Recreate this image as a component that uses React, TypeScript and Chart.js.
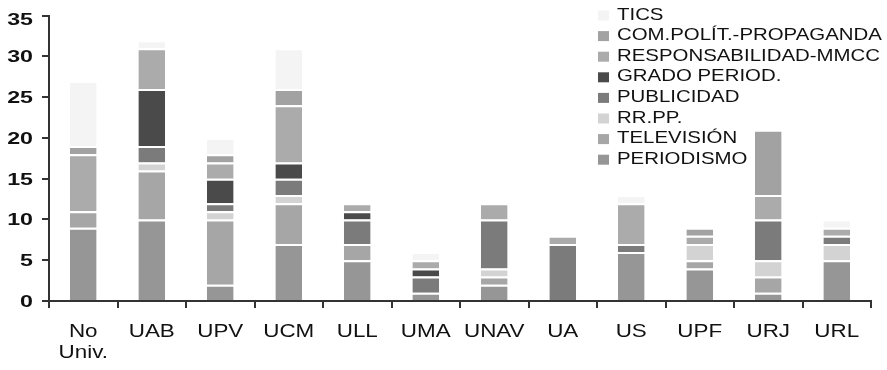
import { useEffect, useRef } from "react";
import { Chart, registerables } from "chart.js";

Chart.register(...registerables);

// Universities (x categories); multi-line labels are arrays
const universities: (string | string[])[] = [
  ["No", "Univ."], "UAB", "UPV", "UCM", "ULL", "UMA", "UNAV", "UA", "US", "UPF", "URJ", "URL",
];

// Number of works per area, stacked bottom to top
const periodismo = [9, 10, 2, 7, 5, 1, 2, 0, 6, 4, 1, 5];
const television = [2, 6, 8, 5, 2, 0, 1, 0, 0, 1, 2, 0];
const rrpp = [0, 1, 1, 1, 0, 0, 1, 0, 0, 2, 2, 2];
const publicidad = [0, 2, 1, 2, 3, 2, 6, 7, 1, 0, 5, 1];
const gradoPeriod = [0, 7, 3, 2, 1, 1, 0, 0, 0, 0, 0, 0];
const responsabilidad = [7, 5, 2, 7, 1, 1, 2, 1, 5, 1, 3, 1];
const comPolitica = [1, 0, 1, 2, 0, 0, 0, 0, 0, 1, 8, 0];
const tics = [8, 1, 2, 5, 0, 1, 0, 0, 1, 0, 0, 1];

const seriesNames = [
  "PERIODISMO",
  "TELEVISIÓN",
  "RR.PP.",
  "PUBLICIDAD",
  "GRADO PERIOD.",
  "RESPONSABILIDAD-MMCC",
  "COM.POLÍT.-PROPAGANDA",
  "TICS",
];
const seriesValues = [
  periodismo, television, rrpp, publicidad, gradoPeriod, responsabilidad, comPolitica, tics,
];
const grays = [
  "#969696", "#a6a6a6", "#d3d3d3", "#7b7b7b", "#4a4a4a", "#ababab", "#a2a2a2", "#f4f4f4",
];

const yTicks = [0, 5, 10, 15, 20, 25, 30, 35];

const FONT = "'Liberation Sans', Arial, sans-serif";
const AXIS = "#333333";

function stretchedText(
  ctx: CanvasRenderingContext2D,
  text: string,
  x: number,
  y: number,
  sx: number,
  align: CanvasTextAlign
) {
  ctx.save();
  ctx.translate(x, y);
  ctx.scale(sx, 1);
  ctx.textAlign = align;
  ctx.fillText(text, 0, 0);
  ctx.restore();
}

// Tick labels and legend, drawn with a wide horizontal scale
const textPlugin = {
  id: "wideText",
  afterDraw(chart: any) {
    const ctx: CanvasRenderingContext2D = chart.ctx;
    const xs = chart.scales.x;
    const ys = chart.scales.y;
    ctx.save();
    ctx.fillStyle = "#111111";
    ctx.textBaseline = "alphabetic";

    // y tick labels
    ctx.font = `bold 16px ${FONT}`;
    yTicks.forEach((v) => {
      const py = Math.max(ys.getPixelForValue(v), 19);
      stretchedText(ctx, String(v), 33, py + 6, 1.45, "right");
    });

    // x category labels
    ctx.font = `17.5px ${FONT}`;
    universities.forEach((lab, i) => {
      const lines = Array.isArray(lab) ? lab : [lab];
      const px = xs.getPixelForValue(i);
      lines.forEach((ln, k) => {
        stretchedText(ctx, ln, px, 337 + k * 20.5, 1.28, "center");
      });
    });

    // legend, topmost series first
    ctx.font = `17px ${FONT}`;
    for (let k = 0; k < seriesNames.length; k++) {
      const idx = seriesNames.length - 1 - k;
      const base = 19.5 + k * 20.6;
      ctx.fillStyle = grays[idx];
      ctx.fillRect(598, base - 9, 11, 10);
      ctx.fillStyle = "#111111";
      stretchedText(ctx, seriesNames[idx], 617, base, 1.2, "left");
    }
    ctx.restore();
  },
};

export default function App() {
  const canvasRef = useRef<HTMLCanvasElement | null>(null);

  useEffect(() => {
    document.body.style.margin = "0";
    const canvas = canvasRef.current;
    if (!canvas) return;

    const chart = new Chart(canvas, {
      type: "bar",
      data: {
        labels: universities as any,
        datasets: seriesNames.map((name, i) => ({
          label: name,
          data: seriesValues[i],
          backgroundColor: grays[i],
          borderColor: "#ffffff",
          borderWidth: { top: 2, bottom: 0, left: 0, right: 0 },
          borderSkipped: false,
          barPercentage: 0.39,
          categoryPercentage: 1,
        })),
      },
      options: {
        responsive: false,
        animation: false,
        events: [],
        layout: { padding: { top: 15.7, right: 16, left: 0, bottom: 0 } },
        plugins: {
          legend: { display: false },
          tooltip: { enabled: false },
        },
        scales: {
          x: {
            stacked: true,
            afterFit: (s: any) => {
              s.height = 69;
            },
            ticks: { display: false },
            grid: {
              offset: true,
              drawOnChartArea: false,
              drawTicks: true,
              tickLength: 7,
              color: AXIS,
              lineWidth: 2,
            },
            border: { display: true, color: AXIS, width: 2 },
          },
          y: {
            stacked: true,
            min: 0,
            max: 35,
            afterFit: (s: any) => {
              s.width = 49;
            },
            ticks: { display: false, stepSize: 5 },
            grid: {
              drawOnChartArea: false,
              drawTicks: true,
              tickLength: 7,
              color: AXIS,
              lineWidth: 2,
            },
            border: { display: true, color: AXIS, width: 2 },
          },
        },
      },
      plugins: [textPlugin],
    });

    return () => chart.destroy();
  }, []);

  return (
    <div style={{ width: 887, height: 370 }}>
      <canvas ref={canvasRef} width={887} height={370} />
    </div>
  );
}
